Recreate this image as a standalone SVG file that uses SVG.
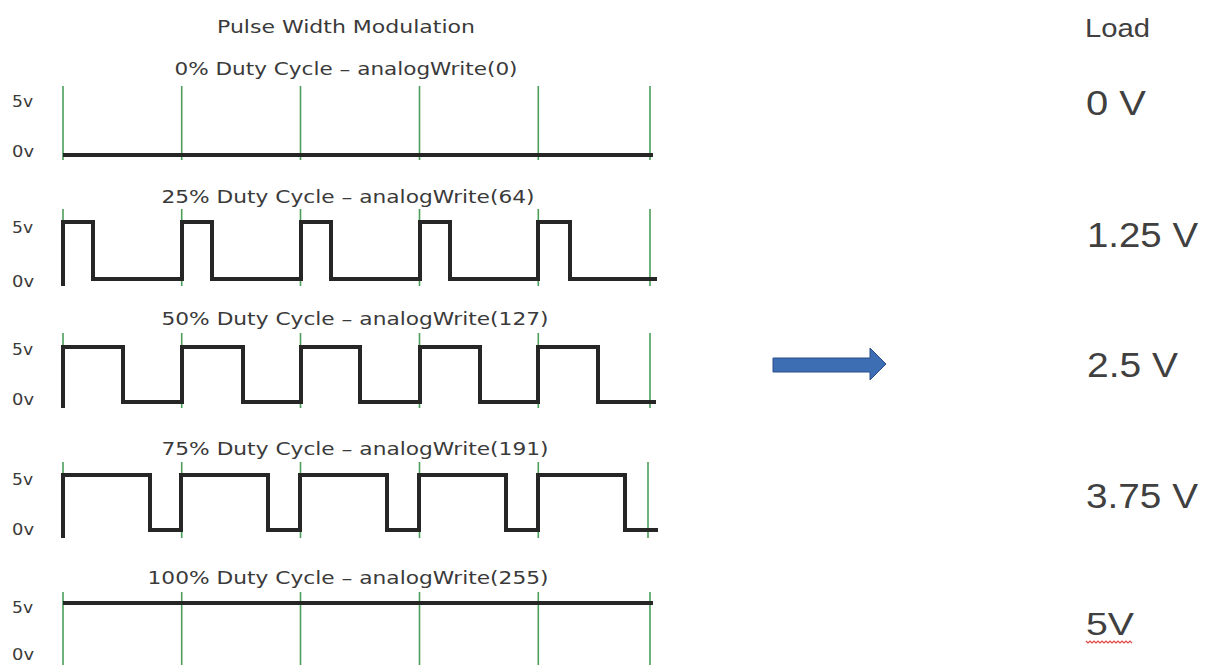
<svg xmlns="http://www.w3.org/2000/svg" width="1206" height="665" viewBox="0 0 1206 665">
<style>
  .lbl { font-family: "DejaVu Sans", Verdana, sans-serif; font-size: 18px; fill: #3a3a3a; }
  .axis { font-family: "DejaVu Sans", Verdana, sans-serif; font-size: 16px; fill: #3a3a3a; }
  .load { font-family: "Liberation Sans", Arial, sans-serif; fill: #404040; }
  .grid { stroke: #4c9e5a; stroke-width: 1.6; fill: none; }
  .wave { stroke: #262626; stroke-width: 4; fill: none; stroke-linejoin: miter; stroke-linecap: butt; }
  .squig { stroke: #e04848; stroke-width: 1.2; fill: none; }
</style>
<rect width="1206" height="665" fill="#ffffff"/>

<text id="title" class="lbl" x="346" y="33" text-anchor="middle" textLength="258" lengthAdjust="spacingAndGlyphs">Pulse Width Modulation</text>

<g id="pwm0">
  <text class="lbl" x="346" y="75" text-anchor="middle" textLength="343" lengthAdjust="spacingAndGlyphs">0% Duty Cycle – analogWrite(0)</text>
  <text class="axis" x="12" y="107" textLength="21" lengthAdjust="spacingAndGlyphs">5v</text>
  <text class="axis" x="12" y="157" textLength="22" lengthAdjust="spacingAndGlyphs">0v</text>
  <path class="grid" d="M63,86V160M181.7,86V160M300.5,86V160M419.5,86V160M538.3,86V160M650,86V160"/>
  <path class="wave" d="M63,155H653"/>
</g>

<g id="pwm25">
  <text class="lbl" x="348" y="203" text-anchor="middle" textLength="373" lengthAdjust="spacingAndGlyphs">25% Duty Cycle – analogWrite(64)</text>
  <text class="axis" x="12" y="233" textLength="21" lengthAdjust="spacingAndGlyphs">5v</text>
  <text class="axis" x="12" y="287" textLength="22" lengthAdjust="spacingAndGlyphs">0v</text>
  <path class="grid" d="M63,209V286M181.7,209V286M300.5,209V286M419.5,209V286M538.3,209V286M650,209V286"/>
  <path class="wave" d="M63,286V222H93V279H182V222H212V279H301V222H331V279H420V222H450V279H538V222H570V279H657"/>
</g>

<g id="pwm50">
  <text class="lbl" x="355" y="325" text-anchor="middle" textLength="387" lengthAdjust="spacingAndGlyphs">50% Duty Cycle – analogWrite(127)</text>
  <text class="axis" x="12" y="355" textLength="21" lengthAdjust="spacingAndGlyphs">5v</text>
  <text class="axis" x="12" y="405" textLength="22" lengthAdjust="spacingAndGlyphs">0v</text>
  <path class="grid" d="M63,333V408M181.7,333V408M300.5,333V408M419.5,333V408M538.3,333V408M650,333V408"/>
  <path class="wave" d="M63,408V347H123V402H182V347H243V402H301V347H360V402H420V347H480V402H538V347H598V402H656"/>
</g>

<g id="pwm75">
  <text class="lbl" x="355" y="455" text-anchor="middle" textLength="387" lengthAdjust="spacingAndGlyphs">75% Duty Cycle – analogWrite(191)</text>
  <text class="axis" x="12" y="485" textLength="21" lengthAdjust="spacingAndGlyphs">5v</text>
  <text class="axis" x="12" y="535" textLength="22" lengthAdjust="spacingAndGlyphs">0v</text>
  <path class="grid" d="M63,462V538M181.7,462V538M300.5,462V538M419.5,462V538M538.3,462V538M648,462V538"/>
  <path class="wave" d="M63,538V475H150V530H181V475H268V530H300V475H387V530H419V475H506V530H538V475H625V530H658"/>
</g>

<g id="pwm100">
  <text class="lbl" x="348" y="584" text-anchor="middle" textLength="401" lengthAdjust="spacingAndGlyphs">100% Duty Cycle – analogWrite(255)</text>
  <text class="axis" x="12" y="613" textLength="21" lengthAdjust="spacingAndGlyphs">5v</text>
  <text class="axis" x="12" y="660" textLength="22" lengthAdjust="spacingAndGlyphs">0v</text>
  <path class="grid" d="M63,592V665M181.7,592V665M300.5,592V665M419.5,592V665M538.3,592V665M650,592V665"/>
  <path class="wave" d="M63,603H653"/>
</g>

<g id="connectors">
  <polygon points="773,358 870,358 870,348 886,364 870,380 870,372 773,372" fill="#3d6db2" stroke="#2b4f8c" stroke-width="1"/>
</g>

<g id="load">
  <text class="load" x="1085" y="37" font-size="25" textLength="65" lengthAdjust="spacingAndGlyphs">Load</text>
  <text class="load" x="1086" y="115" font-size="35" textLength="60" lengthAdjust="spacingAndGlyphs">0 V</text>
  <text class="load" x="1087" y="247" font-size="35" textLength="111" lengthAdjust="spacingAndGlyphs">1.25 V</text>
  <text class="load" x="1087" y="377" font-size="35" textLength="91" lengthAdjust="spacingAndGlyphs">2.5 V</text>
  <text class="load" x="1086" y="508" font-size="35" textLength="112" lengthAdjust="spacingAndGlyphs">3.75 V</text>
  <text class="load" x="1086" y="635" font-size="31" textLength="48" lengthAdjust="spacingAndGlyphs">5V</text>
  <path class="squig" d="M1086,641l2,2l2,-2l2,2l2,-2l2,2l2,-2l2,2l2,-2l2,2l2,-2l2,2l2,-2l2,2l2,-2l2,2l2,-2l2,2l2,-2l2,2l2,-2l2,2l2,-2l2,2"/>
</g>
</svg>
